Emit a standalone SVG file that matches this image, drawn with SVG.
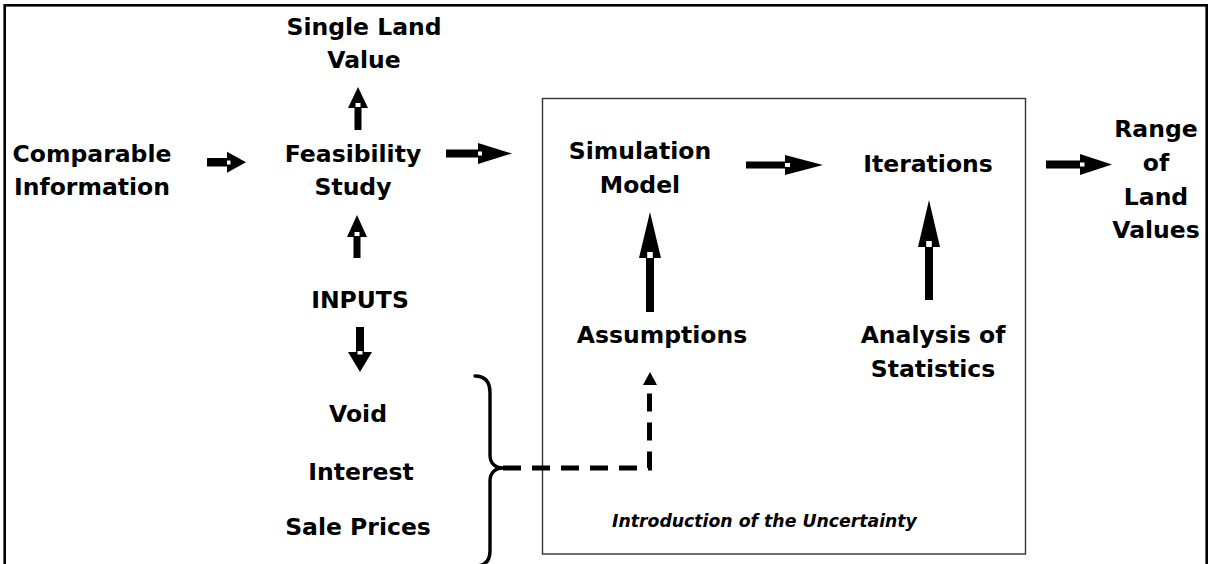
<svg xmlns="http://www.w3.org/2000/svg" width="1209" height="564" viewBox="0 0 1209 564">
<style>
.t{font-family:"DejaVu Sans","Liberation Sans",sans-serif;font-weight:bold;font-size:23.5px;fill:#000;text-anchor:middle}
.it{font-family:"DejaVu Sans","Liberation Sans",sans-serif;font-weight:bold;font-style:italic;font-size:17.3px;fill:#000}
.a{fill:#000}
.n{fill:#fff}
.dash{fill:none;stroke:#000;stroke-width:5;stroke-dasharray:18 11}
.brace{fill:none;stroke:#000;stroke-width:3.4;stroke-linecap:round}
</style>
<rect x="0" y="0" width="1209" height="564" fill="#fff"/>
<rect x="4.7" y="5.3" width="1202" height="620" fill="none" stroke="#000" stroke-width="2.6"/>
<g id="uncertainty-box">
<rect x="542.5" y="98.5" width="483" height="455.5" fill="none" stroke="#333" stroke-width="1.4"/>
<text class="it" x="612" y="527">Introduction of the Uncertainty</text>
</g>
<g id="comparable"><text class="t" x="92" y="162">Comparable</text><text class="t" x="92" y="195">Information</text></g>
<g id="single-land-value"><text class="t" x="364" y="35">Single Land</text><text class="t" x="364" y="68">Value</text></g>
<g id="feasibility"><text class="t" x="353" y="162">Feasibility</text><text class="t" x="353" y="195">Study</text></g>
<g id="inputs"><text class="t" x="360" y="308">INPUTS</text></g>
<g id="void"><text class="t" x="358" y="422">Void</text></g>
<g id="interest"><text class="t" x="361" y="480">Interest</text></g>
<g id="sale-prices"><text class="t" x="358" y="535">Sale Prices</text></g>
<g id="simulation"><text class="t" x="640" y="159">Simulation</text><text class="t" x="640" y="193">Model</text></g>
<g id="iterations"><text class="t" x="928" y="172">Iterations</text></g>
<g id="assumptions"><text class="t" x="662" y="343">Assumptions</text></g>
<g id="analysis"><text class="t" x="933" y="343">Analysis of</text><text class="t" x="933" y="377">Statistics</text></g>
<g id="range"><text class="t" x="1156" y="137">Range</text><text class="t" x="1156" y="171">of</text><text class="t" x="1156" y="205">Land</text><text class="t" x="1156" y="238">Values</text></g>
<g id="connectors">
<!-- Comparable -> Feasibility -->
<polygon class="a" points="207,158 227,158 227,151.7 246,162.2 227,172.7 227,166.5 207,166.5"/>
<rect class="n" x="227" y="160.5" width="3.5" height="4"/>
<!-- Feasibility -> box -->
<polygon class="a" points="446,149.5 478,149.5 478,143 512,153.5 478,164 478,157.5 446,157.5"/>
<rect class="n" x="478" y="151.5" width="4" height="4"/>
<!-- Feasibility -> Single Land Value -->
<polygon class="a" points="354.5,130 354.5,108 348,108 358,87 368,108 361.5,108 361.5,130"/>
<rect class="n" x="355.5" y="103" width="5" height="4"/>
<!-- INPUTS -> Feasibility -->
<polygon class="a" points="353.5,258 353.5,237 347,237 357,215 367,237 360.5,237 360.5,258"/>
<rect class="n" x="354.5" y="232" width="5" height="4"/>
<!-- INPUTS -> Void -->
<polygon class="a" points="356,327 364,327 364,352 372,352 360,372 348,352 356,352"/>
<rect class="n" x="357.5" y="351" width="5" height="3.5"/>
<!-- Assumptions -> Simulation Model -->
<polygon class="a" points="646,312 646,258 639,258 650,212 661,258 654,258 654,312"/>
<rect class="n" x="647.2" y="252" width="5.6" height="6"/>
<!-- Analysis -> Iterations -->
<polygon class="a" points="925,300 925,247 918,247 929,200 940,247 933,247 933,300"/>
<rect class="n" x="926.2" y="241" width="5.6" height="6"/>
<!-- Simulation -> Iterations -->
<polygon class="a" points="746,161.5 785,161.5 785,155 823,165 785,175 785,168.5 746,168.5"/>
<rect class="n" x="785" y="163" width="5" height="4"/>
<!-- Iterations -> Range -->
<polygon class="a" points="1046,160.5 1080,160.5 1080,154 1112,164.5 1080,175 1080,168.5 1046,168.5"/>
<rect class="n" x="1080" y="162.5" width="4.5" height="4"/>
<!-- brace and dashed link to Assumptions -->
<path class="brace" d="M475,376 C485,376 490,382 490,393 L490,455 C490,463 495,468 503,468 C495,468 490,473 490,481 L490,551 C490,561 485,566 475,566"/>
<path class="dash" d="M503,468 H649.5 V386"/>
<polygon class="a" points="650,372 657,385 643,385"/>
</g>
</svg>
